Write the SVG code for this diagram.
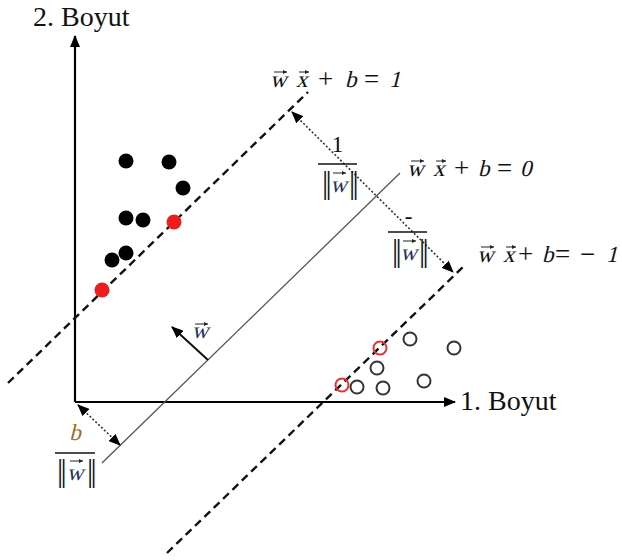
<svg xmlns="http://www.w3.org/2000/svg" width="622" height="560" viewBox="0 0 622 560">
<style>
.lbl{font-family:"Liberation Serif","Times New Roman",serif;font-size:28px;fill:#111}
.it{font-family:"Liberation Serif","Times New Roman",serif;font-size:23px;fill:#111}
.op{font-family:"Liberation Serif","Times New Roman",serif;font-size:27px;fill:#111}
.num{font-family:"Liberation Serif","Times New Roman",serif;font-size:23px;fill:#111;text-anchor:middle}
.bars{font-family:"Liberation Serif","Times New Roman",serif;font-size:31px;fill:#111}
.wv{font-family:"Liberation Serif","Times New Roman",serif;font-size:23px;fill:#2a3060;text-anchor:middle}
.acc{stroke:#222;stroke-width:1;fill:none}
.axis{stroke:#000;stroke-width:2.2;fill:none}
.dash{stroke:#111;stroke-width:2.4;stroke-dasharray:8 5;fill:none}
.solid{stroke:#555;stroke-width:1.3;fill:none}
.dot{stroke:#333;stroke-width:1.6;stroke-dasharray:2 2;fill:none}
.bar{stroke:#111;stroke-width:1.5}
.fb{fill:#000}
.fr{fill:#ee1c1c}
.ob{fill:none;stroke:#333;stroke-width:2}
.orr{fill:none;stroke:#e83030;stroke-width:2}
</style>
<defs>
<marker id="ah" viewBox="0 0 12 10" refX="11" refY="5" markerWidth="12" markerHeight="10" markerUnits="userSpaceOnUse" orient="auto-start-reverse">
<path d="M0,0 L12,5 L0,10 Z" fill="#000"/>
</marker>
<marker id="acch" viewBox="0 0 4 4" refX="4" refY="2" markerWidth="4" markerHeight="4" markerUnits="userSpaceOnUse" orient="auto">
<path d="M0,0 L4,2 L0,4 Z" fill="#222"/>
</marker>
</defs>

<g id="axes">
<line class="axis" x1="75" y1="402" x2="75" y2="36" marker-end="url(#ah)"/>
<line class="axis" x1="75" y1="402" x2="455" y2="402" marker-end="url(#ah)"/>
<text class="lbl" x="33" y="26">2. Boyut</text>
<text class="lbl" x="460" y="410">1. Boyut</text>
</g>

<g id="connectors">
<line class="dash" x1="8" y1="383" x2="308" y2="92"/>
<line class="solid" x1="102" y1="463" x2="400" y2="173"/>
<line class="dash" x1="167" y1="553" x2="463" y2="267"/>
<line class="dot" x1="292" y1="112" x2="453" y2="272" marker-start="url(#ah)" marker-end="url(#ah)"/>
<line class="dot" x1="78" y1="405" x2="120" y2="445" marker-start="url(#ah)" marker-end="url(#ah)"/>
<line stroke="#111" stroke-width="2" x1="208" y1="360" x2="172" y2="327" marker-end="url(#ah)"/>
</g>

<g id="class-positive">
<circle class="fb" cx="126" cy="161" r="7.5"/>
<circle class="fb" cx="169" cy="162" r="7.5"/>
<circle class="fb" cx="183" cy="188" r="7.5"/>
<circle class="fb" cx="126" cy="218" r="7.5"/>
<circle class="fb" cx="143" cy="220" r="7.5"/>
<circle class="fb" cx="112" cy="260" r="7.5"/>
<circle class="fb" cx="126" cy="253" r="7.5"/>
<circle class="fr" cx="174" cy="222" r="7.5"/>
<circle class="fr" cx="102" cy="290" r="7.5"/>
</g>

<g id="class-negative">
<circle class="ob" cx="410" cy="339" r="6.5"/>
<circle class="ob" cx="454" cy="348" r="6.5"/>
<circle class="ob" cx="377" cy="368" r="6.5"/>
<circle class="ob" cx="357" cy="387" r="6.5"/>
<circle class="ob" cx="383" cy="388" r="6.5"/>
<circle class="ob" cx="424" cy="381" r="6.5"/>
<circle class="orr" cx="380" cy="348" r="6.5"/>
<circle class="orr" cx="342" cy="385" r="6.5"/>
</g>

<g id="eq-plus">
<text class="it" transform="translate(0,87) skewX(-14)"><tspan x="270" y="0">w</tspan><tspan x="296" y="0">x</tspan><tspan x="345" y="0">b</tspan><tspan x="389" y="0">1</tspan></text>
<text class="op" y="88"><tspan x="318">+</tspan><tspan x="364">=</tspan></text>
<line class="acc" x1="274" y1="72" x2="287" y2="72" marker-end="url(#acch)"/>
<line class="acc" x1="299" y1="72" x2="309" y2="72" marker-end="url(#acch)"/>
</g>

<g id="eq-zero">
<text class="it" transform="translate(0,176) skewX(-14)"><tspan x="407" y="0">w</tspan><tspan x="433" y="0">x</tspan><tspan x="478" y="0">b</tspan><tspan x="520" y="0">0</tspan></text>
<text class="op" y="177"><tspan x="454">+</tspan><tspan x="497">=</tspan></text>
<line class="acc" x1="411" y1="161" x2="424" y2="161" marker-end="url(#acch)"/>
<line class="acc" x1="436" y1="161" x2="446" y2="161" marker-end="url(#acch)"/>
</g>

<g id="eq-minus">
<text class="it" transform="translate(0,262) skewX(-14)"><tspan x="477" y="0">w</tspan><tspan x="503" y="0">x</tspan><tspan x="542" y="0">b</tspan><tspan x="606" y="0">1</tspan></text>
<text class="op" y="263"><tspan x="518">+</tspan><tspan x="555">=</tspan><tspan x="580">−</tspan></text>
<line class="acc" x1="481" y1="247" x2="494" y2="247" marker-end="url(#acch)"/>
<line class="acc" x1="506" y1="247" x2="516" y2="247" marker-end="url(#acch)"/>
</g>

<g id="frac-margin-top">
<text class="num" x="337.5" y="152">1</text>
<line class="bar" x1="318" y1="164" x2="357" y2="164"/>
<text class="bars" x="322 325.5 349 352.5" y="193">||||</text>
<text class="wv" transform="translate(338.5,192) skewX(-14)" x="0" y="0">w</text>
<line class="acc" x1="333" y1="173" x2="346" y2="173" marker-end="url(#acch)"/>
</g>

<g id="frac-margin-bottom">
<text class="num" x="408.5" y="224" font-size="14">-</text>
<line class="bar" x1="388" y1="232" x2="427" y2="232"/>
<text class="bars" x="392 395.5 419 422.5" y="261">||||</text>
<text class="wv" transform="translate(408.5,260) skewX(-14)" x="0" y="0">w</text>
<line class="acc" x1="403" y1="241" x2="416" y2="241" marker-end="url(#acch)"/>
</g>

<g id="frac-bias">
<text class="it" transform="translate(75,440) skewX(-14)" x="0" y="0" text-anchor="middle" style="fill:#a06a1a">b</text>
<line class="bar" x1="55" y1="453" x2="95" y2="453"/>
<text class="bars" x="57 60.5 87 90.5" y="481">||||</text>
<text class="wv" transform="translate(75,480) skewX(-14)" x="0" y="0">w</text>
<line class="acc" x1="70" y1="461" x2="83" y2="461" marker-end="url(#acch)"/>
</g>

<g id="w-vector-label">
<text class="wv" transform="translate(200,338) skewX(-14)" x="0" y="0">w</text>
<line class="acc" x1="195" y1="324" x2="208" y2="324" marker-end="url(#acch)"/>
</g>
</svg>
